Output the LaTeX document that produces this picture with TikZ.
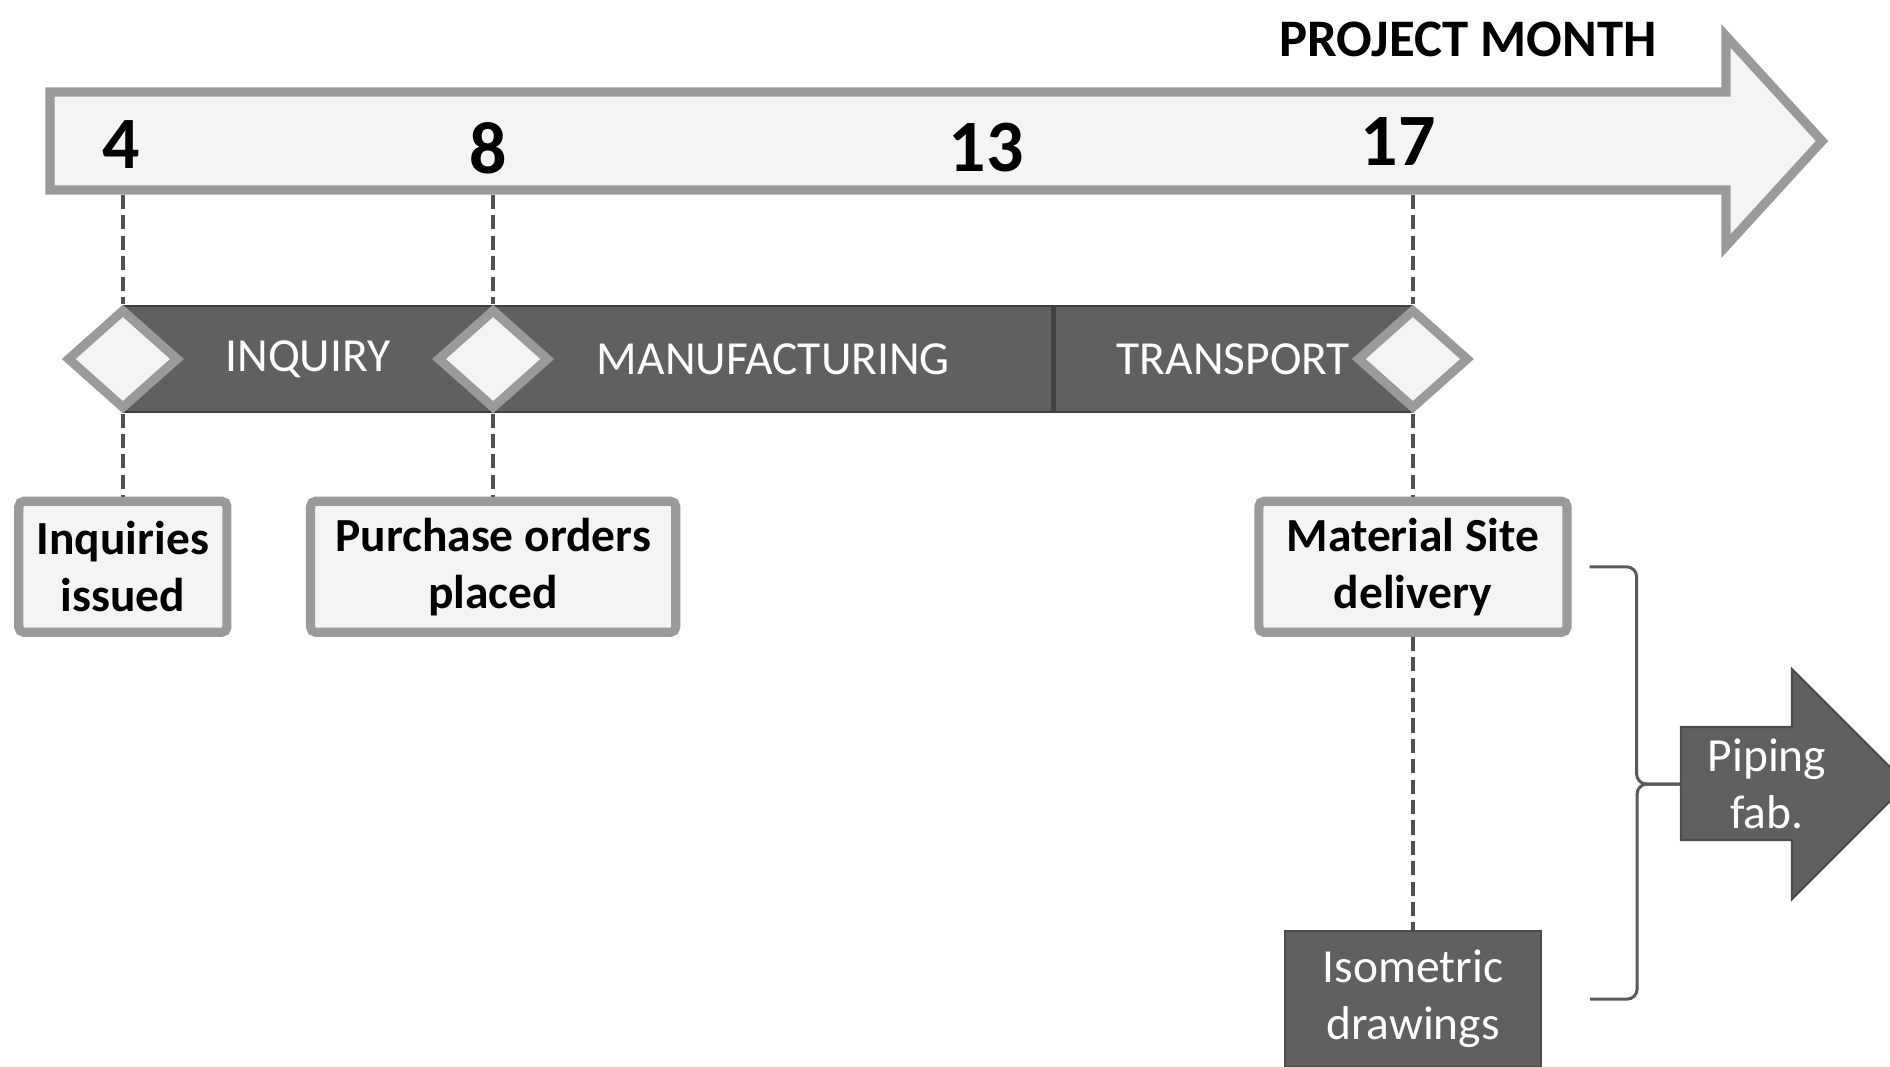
\documentclass[tikz,border=0pt]{standalone}
\usepackage{fontspec}
\setmainfont{Carlito}
\usetikzlibrary{positioning,shapes.geometric}
\definecolor{bargray}{HTML}{606060}
\definecolor{rimgray}{HTML}{9A9A9A}
\definecolor{paper}{HTML}{F4F4F4}
\definecolor{guidegray}{HTML}{505050}
\tikzset{
    phasebar/.style={draw=black!75, line width=0.6pt, fill=bargray, text=white, font=\fontsize{13.5}{16}\selectfont, minimum height=1.06cm, inner sep=0pt},
    milestone/.style={diamond, draw=rimgray, line width=2.6pt, fill=paper, minimum width=1.12cm, minimum height=1.0cm, inner sep=0pt},
    eventbox/.style={draw=rimgray, line width=2.6pt, fill=paper, rounded corners=1.5pt, align=center, font=\fontsize{13.5}{16.2}\selectfont\bfseries, minimum height=1.31cm, inner sep=0pt},
    darkbox/.style={draw=black!70, line width=0.6pt, fill=bargray, text=white, align=center, font=\fontsize{13.5}{16.2}\selectfont, inner sep=0pt},
    monthlabel/.style={font=\fontsize{21}{24}\selectfont\bfseries, inner sep=0pt},
    guideline/.style={draw=guidegray, line width=1.05pt, dash pattern=on 4pt off 1.8pt},
    bracket/.style={draw=black!65, line width=0.85pt, rounded corners=0.1cm}
}

\begin{document}
\begin{tikzpicture}[x=0.01cm, y=0.01cm]
    \useasboundingbox (0,0) rectangle (1890,-1066);
    % month axis
    \draw[draw=rimgray, fill=paper, line width=2.6pt, line join=miter]
        (50,-92) -- (1726,-92) -- (1726,-36) -- (1822,-141) -- (1726,-246) -- (1726,-190) -- (50,-190) -- cycle;
    \coordinate (axisbot) at (0,-195);
    \node[font=\fontsize{15}{18}\selectfont\bfseries, inner sep=0pt] (title) at (1468,-39) {PROJECT MONTH};
    \node[monthlabel] (n4) at (121,-145) {4};
    \node[monthlabel] (n8) at (488,-148) {8};
    \node[monthlabel] (n13) at (986,-148) {13};
    \node[monthlabel] (n17) at (1398,-142) {17};

    % phases
    \node[phasebar, minimum width=3.68cm] (inq) at (308,-359) {INQUIRY};
    \node[phasebar, minimum width=5.58cm, right=0pt of inq] (manu) {MANUFACTURING};
    \node[phasebar, minimum width=3.57cm, right=0pt of manu] (trans) {TRANSPORT};
    \node[milestone] (m4) at (inq.west) {};
    \node[milestone] (m8) at (manu.west) {};
    \node[milestone] (m17) at (trans.east) {};

    % events
    \node[eventbox, minimum width=2.08cm, below=0.83cm of m4] (issued) {Inquiries\\issued};
    \node[eventbox, minimum width=3.65cm, below=0.83cm of m8] (placed) {Purchase orders\\placed};
    \node[eventbox, minimum width=3.08cm, below=0.83cm of m17] (mat) {Material Site\\delivery};
    \node[darkbox, minimum width=2.56cm, minimum height=1.36cm, below=2.93cm of mat] (iso) {Isometric\\drawings};

    \foreach \m/\b in {m4/issued, m8/placed, m17/mat} {
        \draw[guideline] (\m |- axisbot) -- (\m.north);
        \draw[guideline] (\m.south) -- (\b.north);
    }
    \draw[guideline] (mat.south) -- (iso.north);

    % piping fabrication
    \fill[bargray, draw=black!70, line width=0.6pt]
        (1681,-727) -- (1792,-727) -- (1792,-669) -- (1907,-784) -- (1792,-899) -- (1792,-840) -- (1681,-840) -- cycle;
    \coordinate (pipetail) at (1681,-784);
    \node[align=center, text=white, font=\fontsize{13.5}{16.2}\selectfont, inner sep=0pt] (pipe) at (1767,-784) {Piping\\fab.};
    \draw[bracket] ([xshift=0.18cm]mat.east) -- ([xshift=0.65cm]mat.east) |- (pipetail);
    \draw[bracket] ([xshift=0.48cm]iso.east) -- ([xshift=0.95cm]iso.east) |- (pipetail);
\end{tikzpicture}
\end{document}
